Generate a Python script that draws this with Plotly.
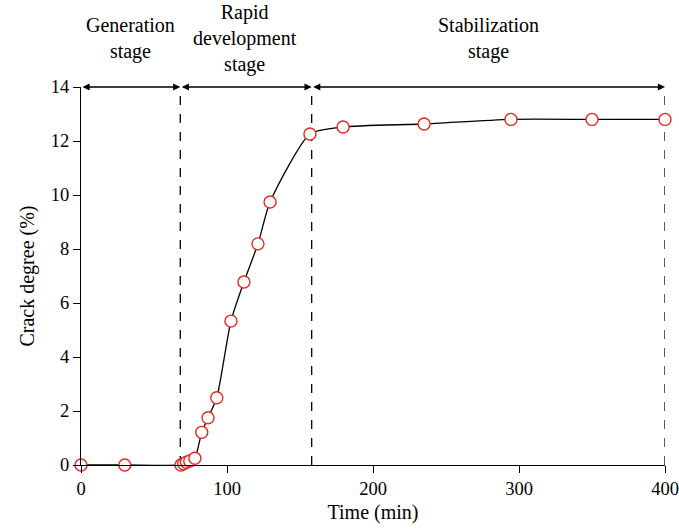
import plotly.graph_objects as go

# Crack degree measurements over time
time_min = [0, 30, 68.5, 70.3, 72.2, 74.5, 78, 82.7, 87, 93, 102.7, 111.6, 121.2, 129.5, 156.8, 179.5, 235, 294.5, 350, 400]
crack_pct = [0, 0, 0, 0.05, 0.1, 0.15, 0.25, 1.21, 1.75, 2.49, 5.33, 6.78, 8.19, 9.74, 12.26, 12.52, 12.63, 12.8, 12.8, 12.8]

# Stage boundaries and labels
stage_bounds = [0, 68, 158, 400]
stage_labels = ["Generation<br>stage", "Rapid<br>development<br>stage", "Stabilization<br>stage"]
x_ticks = [0, 100, 200, 300, 400]
y_ticks = [0, 2, 4, 6, 8, 10, 12, 14]

FONT = "Liberation Serif"
RED = "#e8281e"

fig = go.Figure()
fig.add_trace(go.Scatter(
    x=time_min, y=crack_pct,
    mode="lines+markers",
    line=dict(color="black", width=1.3, shape="spline", smoothing=0.6),
    marker=dict(size=12, color="white", line=dict(color=RED, width=1.4)),
    cliponaxis=False,
    showlegend=False,
))

shapes = []
for xb in stage_bounds[1:]:
    shapes.append(dict(type="line", xref="x", yref="y", x0=xb, x1=xb, y0=0, y1=14,
                       line=dict(color="black", width=1.3, dash="dash"), layer="below"))

annotations = []
for i in range(3):
    annotations.append(dict(
        x=stage_bounds[i + 1], y=14, ax=stage_bounds[i], ay=14,
        xref="x", yref="y", axref="x", ayref="y",
        text="", showarrow=True, arrowhead=2, startarrowhead=2,
        arrowside="end+start", arrowsize=1.1, arrowwidth=1.3, arrowcolor="black",
        standoff=0, startstandoff=0,
    ))

label_x = [33.6, 112, 279]
for xc, txt in zip(label_x, stage_labels):
    annotations.append(dict(
        x=xc, y=1.128, xref="x", yref="paper", yanchor="middle",
        text=txt, showarrow=False, align="center",
        font=dict(family=FONT, size=20, color="black"),
    ))

fig.update_layout(
    width=679, height=531,
    margin=dict(l=81, r=14, t=87, b=66),
    paper_bgcolor="white", plot_bgcolor="white",
    font=dict(family=FONT, size=18, color="black"),
    shapes=shapes, annotations=annotations,
    xaxis=dict(
        range=[0, 400], tickvals=x_ticks, showgrid=False, zeroline=False,
        showline=True, linecolor="black", linewidth=1.3, automargin=False,
        ticks="outside", ticklen=7, tickwidth=1.3, tickcolor="black",
        title=dict(text="Time (min)", font=dict(family=FONT, size=20), standoff=6),
        tickfont=dict(family=FONT, size=18.5),
    ),
    yaxis=dict(
        range=[0, 14], tickvals=y_ticks, showgrid=False, zeroline=False,
        showline=True, linecolor="black", linewidth=1.3, automargin=False,
        ticks="outside", ticklen=7, tickwidth=1.3, tickcolor="black",
        title=dict(text="Crack degree (%)", font=dict(family=FONT, size=20), standoff=10),
        tickfont=dict(family=FONT, size=18.5),
    ),
)

fig.write_html("out.html")
